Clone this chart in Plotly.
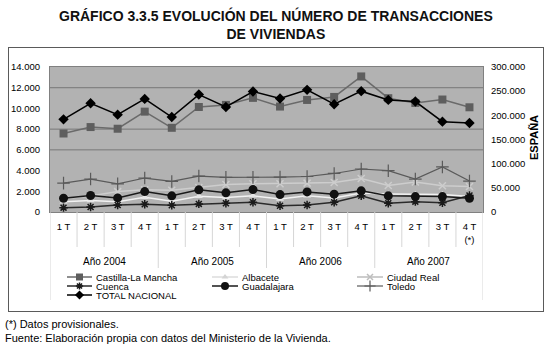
import plotly.graph_objects as go

W, H = 550, 354

quarters = ["1 T", "2 T", "3 T", "4 T", "1 T", "2 T", "3 T", "4 T",
            "1 T", "2 T", "3 T", "4 T", "1 T", "2 T", "3 T", "4 T<br>(*)"]
years = ["Año 2004", "Año 2005", "Año 2006", "Año 2007"]

clm = [7580, 8200, 8040, 9690, 8130, 10140, 10340, 11020,
       10180, 10820, 11110, 13090, 10990, 10530, 10860, 10110]
albacete = [1000, 1100, 1000, 1420, 1050, 1520, 1400, 1560,
            1250, 1560, 1350, 1830, 1750, 1680, 1680, 1500]
ciudad_real = [1300, 1550, 1970, 2150, 2100, 2360, 2650, 2720,
               2720, 2790, 2850, 3240, 2560, 2890, 2530, 2460]
cuenca = [420, 480, 680, 750, 650, 780, 850, 940,
          610, 680, 940, 1560, 850, 1000, 900, 1600]
guadalajara = [1330, 1590, 1360, 1970, 1560, 2140, 1850, 2170,
               1680, 1940, 1720, 2040, 1560, 1490, 1490, 1330]
toledo = [2790, 3180, 2720, 3280, 2950, 3470, 3340, 3340,
          3370, 3430, 3720, 4150, 3990, 3180, 4350, 2990]
total_nacional = [191700, 225000, 201400, 234000, 196500, 243000, 217300, 249300,
                  234800, 252700, 222900, 250000, 231900, 228500, 186900, 184000]

FONT = "Liberation Sans, Arial, sans-serif"
xi = list(range(len(quarters)))

series = [
    ("Castilla-La Mancha", clm, "y", dict(color="#6a6a6a", width=1.5),
     dict(symbol="square", size=8, color="#5e5e5e")),
    ("Albacete", albacete, "y", dict(color="#f2f2f2", width=1.5),
     dict(symbol="triangle-up", size=7, color="#e6e6e6")),
    ("Ciudad Real", ciudad_real, "y", dict(color="#cdcdcd", width=1.5),
     dict(symbol="x-thin-open", size=7, color="#cdcdcd", line=dict(width=1.5, color="#cdcdcd"))),
    ("Cuenca", cuenca, "y", dict(color="#2a2a2a", width=1.5),
     dict(symbol="asterisk-open", size=7, color="#1a1a1a", line=dict(width=1.5, color="#1a1a1a"))),
    ("Guadalajara", guadalajara, "y", dict(color="#1a1a1a", width=1.5),
     dict(symbol="circle", size=9, color="#111111")),
    ("Toledo", toledo, "y", dict(color="#5a5a5a", width=1.2),
     dict(symbol="cross-thin-open", size=9, color="#5a5a5a", line=dict(width=1.2, color="#5a5a5a"))),
    ("TOTAL NACIONAL", total_nacional, "y2", dict(color="#000000", width=1.5),
     dict(symbol="diamond", size=8, color="#000000")),
]

px = lambda v: v / W
py = lambda v: (H - v) / H
PL, PR, PT, PB = 50, 483, 67, 212

fig = go.Figure()

for name, vals, yax, ln, mk in series:
    fig.add_trace(go.Scatter(x=xi, y=vals, name=name, mode="lines+markers",
                             line=ln, marker=mk, yaxis=yax, xaxis="x",
                             showlegend=False))

annotations = []

# outer frame drawn as the border of an empty annotation box
annotations.append(dict(x=px(8), y=py(47), xref="paper", yref="paper", text=" ",
                        showarrow=False, xanchor="left", yanchor="top",
                        width=534, height=263, borderpad=0, borderwidth=1,
                        bordercolor="#5a5a5a", bgcolor="rgba(0,0,0,0)"))

# manual legend (pixel coordinate subplot)
leg_cols = [(67, 92, 94), (212, 238, 240), (357, 383, 385)]
leg_rows = [277, 286, 295]
for k, (name, vals, yax, ln, mk) in enumerate(series):
    r, c = divmod(k, 3)
    x0, x1, xt = leg_cols[c]
    yy = leg_rows[r]
    lnk = dict(ln)
    mkk = dict(mk)
    if name == "Albacete":
        lnk["color"] = "#dcdcdc"; mkk["color"] = "#d4d4d4"
    if name == "Ciudad Real":
        lnk["color"] = "#bdbdbd"; mkk["color"] = "#bdbdbd"
        mkk["line"] = dict(width=1.5, color="#bdbdbd")
    fig.add_trace(go.Scatter(x=[x0, x1], y=[yy, yy], mode="lines", line=lnk,
                             xaxis="x3", yaxis="y3", showlegend=False, hoverinfo="skip"))
    mkk["size"] = max(mkk["size"] - 1, 5)
    fig.add_trace(go.Scatter(x=[(x0 + x1) / 2], y=[yy], mode="markers", marker=mkk,
                             xaxis="x3", yaxis="y3", showlegend=False, hoverinfo="skip"))
    annotations.append(dict(x=xt, y=yy, xref="x3", yref="y3", text=name, showarrow=False,
                            xanchor="left", yanchor="middle",
                            font=dict(family=FONT, size=9.5, color="#000")))

shapes = []
shapes.append(dict(type="rect", xref="x domain", yref="y domain", x0=0, x1=1, y0=0, y1=1,
                   fillcolor="#b2b2b2", line=dict(width=0), layer="below"))
for g in [6000, 8000, 12000]:
    shapes.append(dict(type="line", xref="x domain", yref="y", x0=0, x1=1, y0=g, y1=g,
                       line=dict(color="#787878", width=1), layer="below"))
n = len(quarters)
for i in range(n + 1):
    xb = i - 0.5
    if i == 0 or i == n:
        yend = 300
    elif i % 4 == 0:
        yend = 268
    else:
        yend = 247
    shapes.append(dict(type="line", xref="x", yref="paper", x0=xb, x1=xb,
                       y0=py(PB), y1=py(yend), line=dict(color="#d6d6d6", width=1)))

for j, yr in enumerate(years):
    idx = [i for i in xi if i // 4 == j]
    annotations.append(dict(x=sum(idx) / len(idx), y=py(261), xref="x", yref="paper",
                            text=yr, showarrow=False, xanchor="center", yanchor="middle",
                            font=dict(family=FONT, size=10, color="#000")))
annotations.append(dict(x=px(276), y=py(24), xref="paper", yref="paper",
                        text="<b>GRÁFICO 3.3.5 EVOLUCIÓN DEL NÚMERO DE TRANSACCIONES</b><br><b>DE VIVIENDAS</b>",
                        showarrow=False, xanchor="center", yanchor="middle",
                        font=dict(family=FONT, size=14, color="#111")))
annotations.append(dict(x=px(534), y=py(138), xref="paper", yref="paper",
                        text="<b>ESPAÑA</b>", textangle=-90, showarrow=False,
                        xanchor="center", yanchor="middle",
                        font=dict(family=FONT, size=11, color="#000")))
annotations.append(dict(x=px(3), y=py(324), xref="paper", yref="paper",
                        text="(*) Datos provisionales.", showarrow=False,
                        xanchor="left", yanchor="middle",
                        font=dict(family=FONT, size=11, color="#000")))
annotations.append(dict(x=px(3), y=py(338), xref="paper", yref="paper",
                        text="Fuente: Elaboración propia con datos del Ministerio de la Vivienda.",
                        showarrow=False, xanchor="left", yanchor="middle",
                        font=dict(family=FONT, size=11, color="#000")))

tickfont = dict(family=FONT, size=9.5, color="#000")
fig.update_layout(
    width=W, height=H, margin=dict(l=0, r=0, t=0, b=0, autoexpand=False),
    paper_bgcolor="white", plot_bgcolor="rgba(0,0,0,0)",
    separators=",.",
    font=dict(family=FONT, size=10, color="#000"),
    xaxis=dict(domain=[px(PL), px(PR)], range=[-0.5, n - 0.5], tickvals=xi, ticktext=quarters,
               showgrid=False, zeroline=False, showline=True, mirror=True, linecolor="#808080",
               ticks="", ticklabelstandoff=6, tickfont=tickfont, anchor="y", fixedrange=True),
    yaxis=dict(domain=[py(PB), py(PT)], range=[0, 14000], dtick=2000, tickformat=",d",
               showgrid=False, zeroline=False, showline=True, mirror=True, linecolor="#808080",
               ticks="", ticklabelstandoff=7, tickfont=tickfont, anchor="x"),
    yaxis2=dict(overlaying="y", side="right", anchor="x", range=[0, 300000], dtick=50000,
                tickformat=",d", showgrid=False, zeroline=False, showline=False, ticks="",
                ticklabelstandoff=7, tickfont=tickfont),
    xaxis3=dict(domain=[0, 1], range=[0, W], visible=False, anchor="y3", fixedrange=True),
    yaxis3=dict(domain=[0, 1], range=[H, 0], visible=False, anchor="x3", fixedrange=True),
    showlegend=False,
)
fig.layout.shapes = shapes
fig.layout.annotations = annotations

fig.write_html("out.html")
